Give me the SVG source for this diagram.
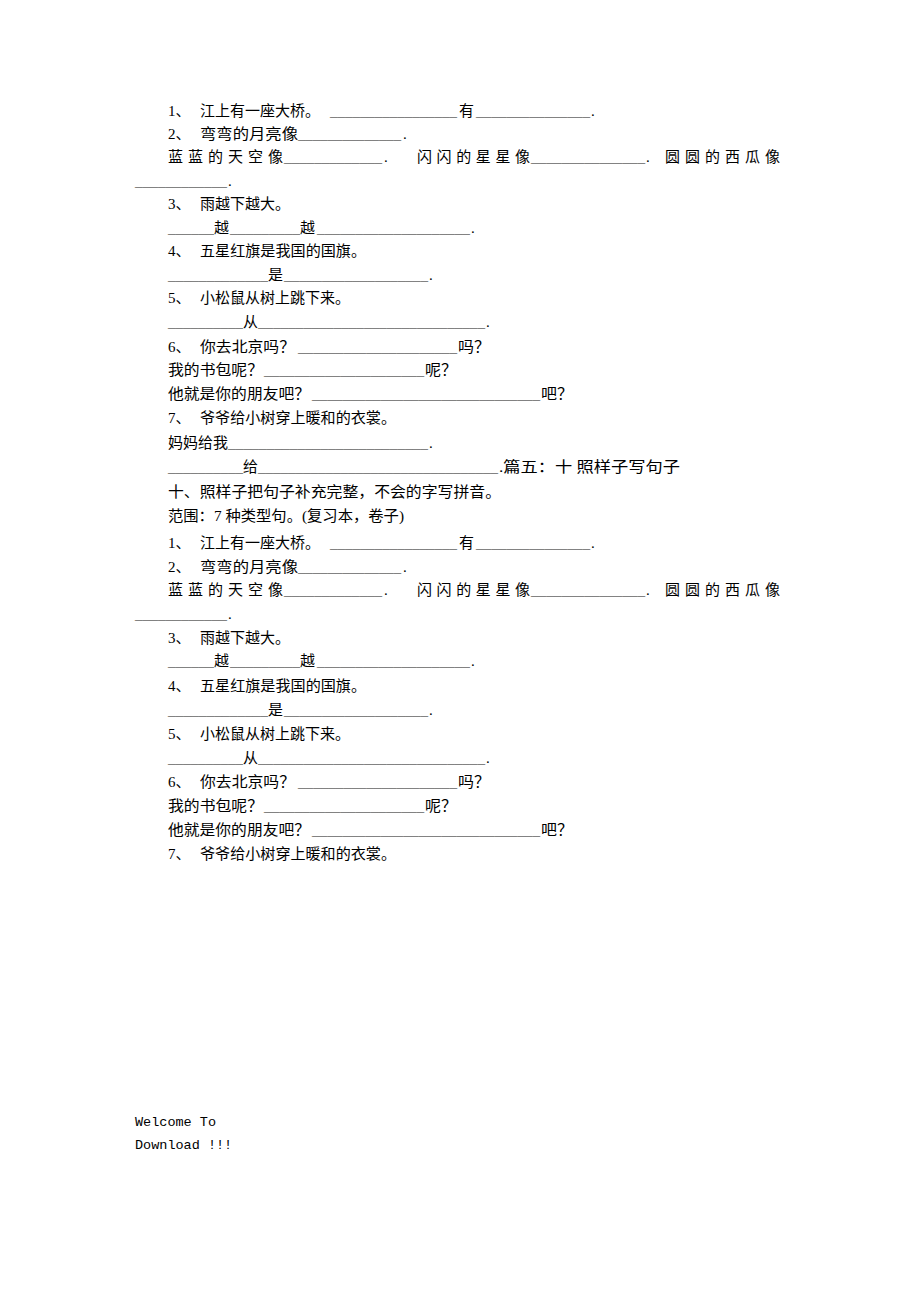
<svg xmlns="http://www.w3.org/2000/svg" width="920" height="1302" viewBox="0 0 920 1302">
<style>
.t{font-family:"Liberation Serif","Noto Sans CJK SC",serif;font-size:15px;fill:#000}
.u{font-family:"Liberation Serif",serif;font-size:15px;fill:#666}
.m{font-family:"Liberation Mono",monospace;font-size:13.5px;fill:#000}
</style>
<rect width="920" height="1302" fill="#fff"/>
<g id="blockA">
<text class="t" x="168" y="116">1、</text><text class="t" x="200" y="116" textLength="120" lengthAdjust="spacingAndGlyphs">江上有一座大桥。</text><text class="u" x="330" y="116" textLength="127" lengthAdjust="spacingAndGlyphs">_________________</text><text class="t" x="459" y="116">有</text><text class="u" x="476" y="116" textLength="114" lengthAdjust="spacingAndGlyphs">_______________</text><text class="t" x="591" y="116">.</text>
<text class="t" x="168" y="139">2、</text><text class="t" x="200" y="139" textLength="98" lengthAdjust="spacingAndGlyphs">弯弯的月亮像</text><text class="u" x="298" y="139" textLength="103" lengthAdjust="spacingAndGlyphs">______________</text><text class="t" x="403" y="139">.</text>
<text class="t" x="168" y="162" textLength="115" lengthAdjust="spacing">蓝蓝的天空像</text><text class="u" x="284" y="162" textLength="98" lengthAdjust="spacingAndGlyphs">_____________</text><text class="t" x="384" y="162">.</text><text class="t" x="417" y="162" textLength="113" lengthAdjust="spacing">闪闪的星星像</text><text class="u" x="531" y="162" textLength="114" lengthAdjust="spacingAndGlyphs">_______________</text><text class="t" x="646" y="162">.</text><text class="t" x="665" y="162" textLength="115" lengthAdjust="spacing">圆圆的西瓜像</text>
<text class="u" x="135" y="186" textLength="92" lengthAdjust="spacingAndGlyphs">____________</text><text class="t" x="228" y="186">.</text>
<text class="t" x="168" y="209">3、</text><text class="t" x="200" y="209" textLength="90" lengthAdjust="spacingAndGlyphs">雨越下越大。</text>
<text class="u" x="168" y="233" textLength="46" lengthAdjust="spacingAndGlyphs">______</text><text class="t" x="214" y="233">越</text><text class="u" x="230" y="233" textLength="70" lengthAdjust="spacingAndGlyphs">_________</text><text class="t" x="300" y="233">越</text><text class="u" x="317" y="233" textLength="153" lengthAdjust="spacingAndGlyphs">____________________</text><text class="t" x="471" y="233">.</text>
<text class="t" x="168" y="256">4、</text><text class="t" x="200" y="256" textLength="166" lengthAdjust="spacingAndGlyphs">五星红旗是我国的国旗。</text>
<text class="u" x="168" y="280" textLength="100" lengthAdjust="spacingAndGlyphs">_____________</text><text class="t" x="268" y="280">是</text><text class="u" x="284" y="280" textLength="144" lengthAdjust="spacingAndGlyphs">___________________</text><text class="t" x="429" y="280">.</text>
<text class="t" x="168" y="303">5、</text><text class="t" x="200" y="303" textLength="150" lengthAdjust="spacingAndGlyphs">小松鼠从树上跳下来。</text>
<text class="u" x="168" y="327" textLength="75" lengthAdjust="spacingAndGlyphs">__________</text><text class="t" x="243" y="327">从</text><text class="u" x="258" y="327" textLength="227" lengthAdjust="spacingAndGlyphs">______________________________</text><text class="t" x="486" y="327">.</text>
<text class="t" x="168" y="352">6、</text><text class="t" x="200" y="352" textLength="95" lengthAdjust="spacingAndGlyphs">你去北京吗？</text><text class="u" x="298" y="352" textLength="159" lengthAdjust="spacingAndGlyphs">_____________________</text><text class="t" x="458" y="352" textLength="32" lengthAdjust="spacingAndGlyphs">吗？</text>
<text class="t" x="168" y="375" textLength="95" lengthAdjust="spacingAndGlyphs">我的书包呢？</text><text class="u" x="264" y="375" textLength="160" lengthAdjust="spacingAndGlyphs">_____________________</text><text class="t" x="425" y="375" textLength="32" lengthAdjust="spacingAndGlyphs">呢？</text>
<text class="t" x="168" y="399" textLength="142" lengthAdjust="spacingAndGlyphs">他就是你的朋友吧？</text><text class="u" x="312" y="399" textLength="228" lengthAdjust="spacingAndGlyphs">______________________________</text><text class="t" x="541" y="399" textLength="32" lengthAdjust="spacingAndGlyphs">吧？</text>
<text class="t" x="168" y="423">7、</text><text class="t" x="200" y="423" textLength="196" lengthAdjust="spacingAndGlyphs">爷爷给小树穿上暖和的衣裳。</text>
<text class="t" x="168" y="448" textLength="60" lengthAdjust="spacingAndGlyphs">妈妈给我</text><text class="u" x="228" y="448" textLength="200" lengthAdjust="spacingAndGlyphs">__________________________</text><text class="t" x="429" y="448">.</text>
<text class="u" x="168" y="472" textLength="75" lengthAdjust="spacingAndGlyphs">__________</text><text class="t" x="243" y="472">给</text><text class="u" x="258" y="472" textLength="240" lengthAdjust="spacingAndGlyphs">________________________________</text><text class="t" x="499" y="472" textLength="181" lengthAdjust="spacingAndGlyphs">.篇五：十 照样子写句子</text>
<text class="t" x="168" y="497" textLength="333" lengthAdjust="spacingAndGlyphs">十、照样子把句子补充完整，不会的字写拼音。</text>
<text class="t" x="168" y="521" textLength="236" lengthAdjust="spacingAndGlyphs">范围：7 种类型句。(复习本，卷子)</text>
</g>
<g id="blockB">
<text class="t" x="168" y="548">1、</text><text class="t" x="200" y="548" textLength="120" lengthAdjust="spacingAndGlyphs">江上有一座大桥。</text><text class="u" x="330" y="548" textLength="127" lengthAdjust="spacingAndGlyphs">_________________</text><text class="t" x="459" y="548">有</text><text class="u" x="476" y="548" textLength="114" lengthAdjust="spacingAndGlyphs">_______________</text><text class="t" x="591" y="548">.</text>
<text class="t" x="168" y="572">2、</text><text class="t" x="200" y="572" textLength="98" lengthAdjust="spacingAndGlyphs">弯弯的月亮像</text><text class="u" x="298" y="572" textLength="103" lengthAdjust="spacingAndGlyphs">______________</text><text class="t" x="403" y="572">.</text>
<text class="t" x="168" y="595" textLength="115" lengthAdjust="spacing">蓝蓝的天空像</text><text class="u" x="284" y="595" textLength="98" lengthAdjust="spacingAndGlyphs">_____________</text><text class="t" x="384" y="595">.</text><text class="t" x="417" y="595" textLength="113" lengthAdjust="spacing">闪闪的星星像</text><text class="u" x="531" y="595" textLength="114" lengthAdjust="spacingAndGlyphs">_______________</text><text class="t" x="646" y="595">.</text><text class="t" x="665" y="595" textLength="115" lengthAdjust="spacing">圆圆的西瓜像</text>
<text class="u" x="135" y="619" textLength="92" lengthAdjust="spacingAndGlyphs">____________</text><text class="t" x="228" y="619">.</text>
<text class="t" x="168" y="643">3、</text><text class="t" x="200" y="643" textLength="90" lengthAdjust="spacingAndGlyphs">雨越下越大。</text>
<text class="u" x="168" y="666" textLength="46" lengthAdjust="spacingAndGlyphs">______</text><text class="t" x="214" y="666">越</text><text class="u" x="230" y="666" textLength="70" lengthAdjust="spacingAndGlyphs">_________</text><text class="t" x="300" y="666">越</text><text class="u" x="317" y="666" textLength="153" lengthAdjust="spacingAndGlyphs">____________________</text><text class="t" x="471" y="666">.</text>
<text class="t" x="168" y="691">4、</text><text class="t" x="200" y="691" textLength="166" lengthAdjust="spacingAndGlyphs">五星红旗是我国的国旗。</text>
<text class="u" x="168" y="715" textLength="100" lengthAdjust="spacingAndGlyphs">_____________</text><text class="t" x="268" y="715">是</text><text class="u" x="284" y="715" textLength="144" lengthAdjust="spacingAndGlyphs">___________________</text><text class="t" x="429" y="715">.</text>
<text class="t" x="168" y="739">5、</text><text class="t" x="200" y="739" textLength="150" lengthAdjust="spacingAndGlyphs">小松鼠从树上跳下来。</text>
<text class="u" x="168" y="763" textLength="75" lengthAdjust="spacingAndGlyphs">__________</text><text class="t" x="243" y="763">从</text><text class="u" x="258" y="763" textLength="227" lengthAdjust="spacingAndGlyphs">______________________________</text><text class="t" x="486" y="763">.</text>
<text class="t" x="168" y="787">6、</text><text class="t" x="200" y="787" textLength="95" lengthAdjust="spacingAndGlyphs">你去北京吗？</text><text class="u" x="298" y="787" textLength="159" lengthAdjust="spacingAndGlyphs">_____________________</text><text class="t" x="458" y="787" textLength="32" lengthAdjust="spacingAndGlyphs">吗？</text>
<text class="t" x="168" y="811" textLength="95" lengthAdjust="spacingAndGlyphs">我的书包呢？</text><text class="u" x="264" y="811" textLength="160" lengthAdjust="spacingAndGlyphs">_____________________</text><text class="t" x="425" y="811" textLength="32" lengthAdjust="spacingAndGlyphs">呢？</text>
<text class="t" x="168" y="835" textLength="142" lengthAdjust="spacingAndGlyphs">他就是你的朋友吧？</text><text class="u" x="312" y="835" textLength="228" lengthAdjust="spacingAndGlyphs">______________________________</text><text class="t" x="541" y="835" textLength="32" lengthAdjust="spacingAndGlyphs">吧？</text>
<text class="t" x="168" y="859">7、</text><text class="t" x="200" y="859" textLength="196" lengthAdjust="spacingAndGlyphs">爷爷给小树穿上暖和的衣裳。</text>
</g>
<g id="footer">
<text class="m" x="135" y="1126">Welcome To</text>
<text class="m" x="135" y="1149">Download !!!</text>
</g>
</svg>
